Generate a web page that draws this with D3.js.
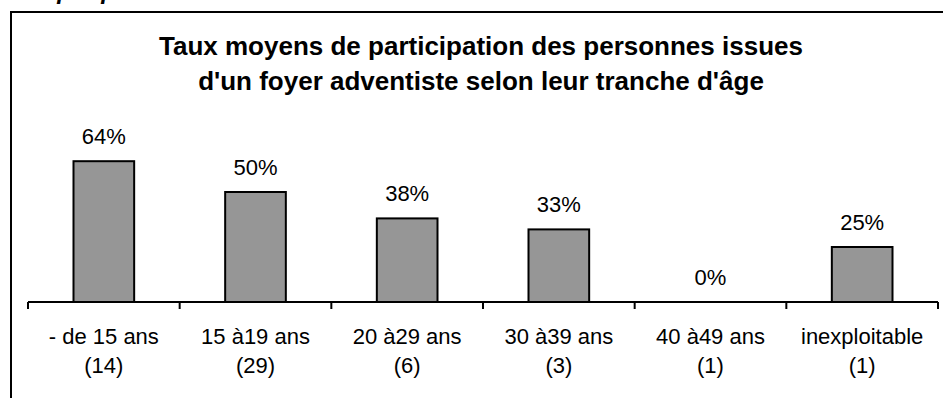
<!DOCTYPE html>
<html>
<head>
<meta charset="utf-8">
<script src="https://cdn.jsdelivr.net/npm/d3@7"></script>
<style>
  html, body { margin: 0; padding: 0; background: #fff; }
  svg { display: block; }
</style>
</head>
<body>
<svg id="chart" width="943" height="398"></svg>
<script>
// Age groups, number of people in each group, and mean participation rate
const categories = ["- de 15 ans", "15 à19 ans", "20 à29 ans", "30 à39 ans", "40 à49 ans", "inexploitable"];
const counts = ["(14)", "(29)", "(6)", "(3)", "(1)", "(1)"];
const rates = [0.64, 0.50, 0.38, 0.33, 0.00, 0.25];
const titleLines = [
  "Taux moyens de participation des personnes issues",
  "d'un foyer adventiste selon leur tranche d'âge"
];

const svg = d3.select("#chart");
const font = "'Liberation Sans', Arial, sans-serif";

// Heading of the page above the frame (runs off the top edge)
svg.append("text")
  .attr("x", 16).attr("y", -1)
  .attr("font-family", font)
  .attr("font-size", 24)
  .attr("font-weight", "bold")
  .attr("font-style", "italic")
  .attr("fill", "#000")
  .text("Graphique 33");

// Chart frame (left and top edges visible)
svg.append("path")
  .attr("d", "M11,400 L11,12 L945,12")
  .attr("fill", "none")
  .attr("stroke", "#000")
  .attr("stroke-width", 2);

// Title
const title = svg.append("text")
  .attr("font-family", font)
  .attr("font-size", 26)
  .attr("font-weight", "bold")
  .attr("text-anchor", "middle")
  .attr("fill", "#000");
title.append("tspan").attr("x", 481).attr("y", 55).text(titleLines[0]);
title.append("tspan").attr("x", 481).attr("y", 90).text(titleLines[1]);

// Scales
const x = d3.scaleBand().domain(categories).range([28, 938]).padding(0);
const y = d3.scaleLinear().domain([0, 1]).range([302, 82]);
const barW = x.bandwidth() * 0.4;

// Bars
svg.append("g")
  .selectAll("rect")
  .data(categories.filter((c, i) => rates[i] > 0))
  .join("rect")
  .attr("x", c => x(c) + (x.bandwidth() - barW) / 2)
  .attr("y", c => y(rates[categories.indexOf(c)]))
  .attr("width", barW)
  .attr("height", c => y(0) - y(rates[categories.indexOf(c)]))
  .attr("fill", "#969696")
  .attr("stroke", "#000")
  .attr("stroke-width", 2);

// Value labels
svg.append("g")
  .selectAll("text")
  .data(categories)
  .join("text")
  .attr("x", c => x(c) + x.bandwidth() / 2)
  .attr("y", (c, i) => y(rates[i]) - 17)
  .attr("text-anchor", "middle")
  .attr("font-family", font)
  .attr("font-size", 22)
  .attr("fill", "#000")
  .text((c, i) => d3.format(".0%")(rates[i]));

// Category axis with ticks between groups
const axis = d3.axisBottom(x).tickSize(0).tickFormat("");
const gAxis = svg.append("g").attr("transform", `translate(0,${y(0)})`).call(axis);
gAxis.select(".domain").attr("stroke", "#000").attr("stroke-width", 2).attr("d", `M${x.range()[0]},0H${x.range()[1]}`);
gAxis.selectAll(".tick").remove();
gAxis.selectAll("line.sep")
  .data(categories.map(c => x(c)).concat([x.range()[1]]))
  .join("line")
  .attr("class", "sep")
  .attr("x1", d => d).attr("x2", d => d)
  .attr("y1", 0).attr("y2", 7)
  .attr("stroke", "#000").attr("stroke-width", 2);

// Category labels: name and group size
const labels = svg.append("g")
  .selectAll("text")
  .data(categories)
  .join("text")
  .attr("text-anchor", "middle")
  .attr("font-family", font)
  .attr("font-size", 22)
  .attr("fill", "#000");
labels.append("tspan")
  .attr("x", c => x(c) + x.bandwidth() / 2)
  .attr("y", 344)
  .text(c => c);
labels.append("tspan")
  .attr("x", c => x(c) + x.bandwidth() / 2)
  .attr("y", 373)
  .text((c, i) => counts[i]);
</script>
</body>
</html>
